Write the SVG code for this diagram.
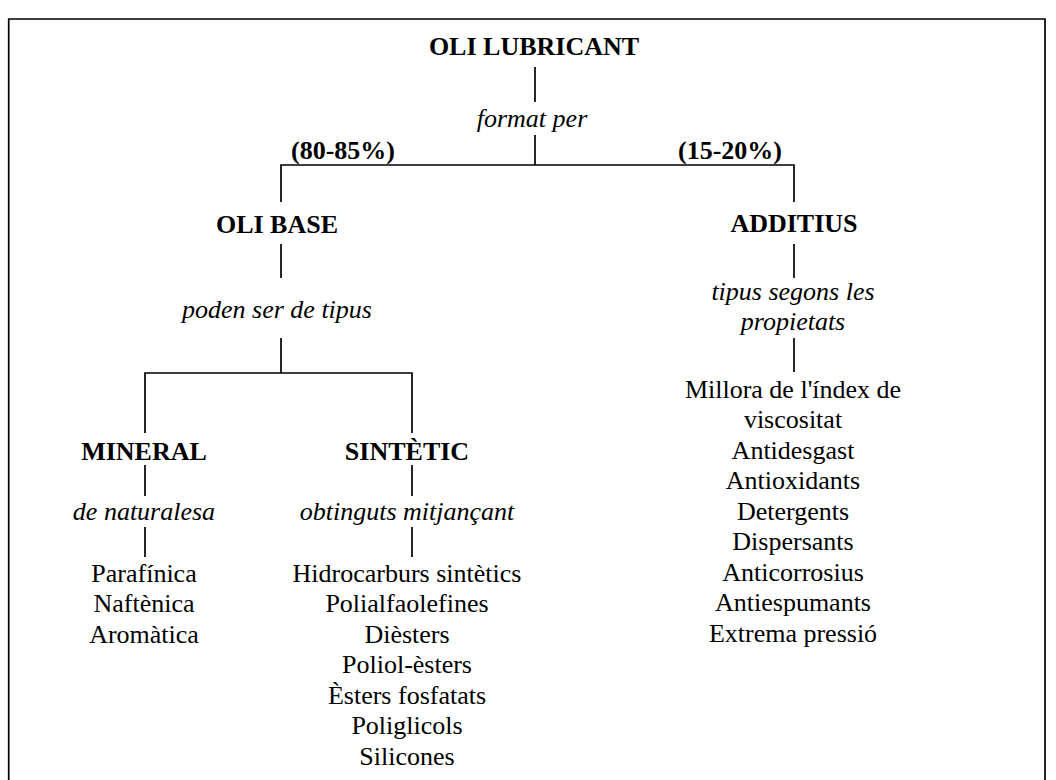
<svg xmlns="http://www.w3.org/2000/svg" width="1056" height="780" viewBox="0 0 1056 780">
<style>
text{font-family:"Liberation Serif","Times New Roman",serif;font-size:26px;fill:#000;text-anchor:middle}
.b{font-weight:bold}
.i{font-style:italic}
.ln{stroke:#000;stroke-width:1.7;fill:none}
</style>
<rect x="0" y="0" width="1056" height="780" fill="#fff"/>
<path class="ln" d="M8.7 790 V19 H1045 V790"/>
<g id="connectors">
<path class="ln" d="M535 67 V102"/>
<path class="ln" d="M535 135 V165"/>
<path class="ln" d="M281 202 V165 H794 V202"/>
<path class="ln" d="M281 244 V278"/>
<path class="ln" d="M794 244 V278"/>
<path class="ln" d="M281 338 V373"/>
<path class="ln" d="M794 338 V372"/>
<path class="ln" d="M145 433 V373 H412 V433"/>
<path class="ln" d="M145 465 V496"/>
<path class="ln" d="M412 465 V496"/>
<path class="ln" d="M145 527 V557"/>
<path class="ln" d="M412 527 V557"/>
</g>
<g id="oli-lubricant"><text class="b" x="534" y="55">OLI LUBRICANT</text></g>
<g id="format-per"><text class="i" x="532" y="127">format per</text></g>
<g id="pct-base"><text class="b" x="343" y="159">(80-85%)</text></g>
<g id="pct-additius"><text class="b" x="730" y="159">(15-20%)</text></g>
<g id="oli-base"><text class="b" x="277" y="233">OLI BASE</text></g>
<g id="additius"><text class="b" x="794" y="232">ADDITIUS</text></g>
<g id="poden-ser"><text class="i" x="277" y="318">poden ser de tipus</text></g>
<g id="tipus-segons"><text class="i" x="793" y="300">tipus segons les</text><text class="i" x="793" y="330">propietats</text></g>
<g id="llista-additius">
<text x="793" y="398">Millora de l'índex de</text>
<text x="793" y="428">viscositat</text>
<text x="793" y="459">Antidesgast</text>
<text x="793" y="489">Antioxidants</text>
<text x="793" y="520">Detergents</text>
<text x="793" y="550">Dispersants</text>
<text x="793" y="581">Anticorrosius</text>
<text x="793" y="611">Antiespumants</text>
<text x="793" y="642">Extrema pressió</text>
</g>
<g id="mineral"><text class="b" x="144" y="460">MINERAL</text></g>
<g id="sintetic"><text class="b" x="407" y="460">SINTÈTIC</text></g>
<g id="de-naturalesa"><text class="i" x="144" y="520">de naturalesa</text></g>
<g id="obtinguts"><text class="i" x="407" y="520">obtinguts mitjançant</text></g>
<g id="llista-mineral">
<text x="144" y="582">Parafínica</text>
<text x="144" y="612">Naftènica</text>
<text x="144" y="643">Aromàtica</text>
</g>
<g id="llista-sintetic">
<text x="407" y="582">Hidrocarburs sintètics</text>
<text x="407" y="612">Polialfaolefines</text>
<text x="407" y="643">Dièsters</text>
<text x="407" y="673">Poliol-èsters</text>
<text x="407" y="704">Èsters fosfatats</text>
<text x="407" y="734">Poliglicols</text>
<text x="407" y="765">Silicones</text>
</g>
</svg>
